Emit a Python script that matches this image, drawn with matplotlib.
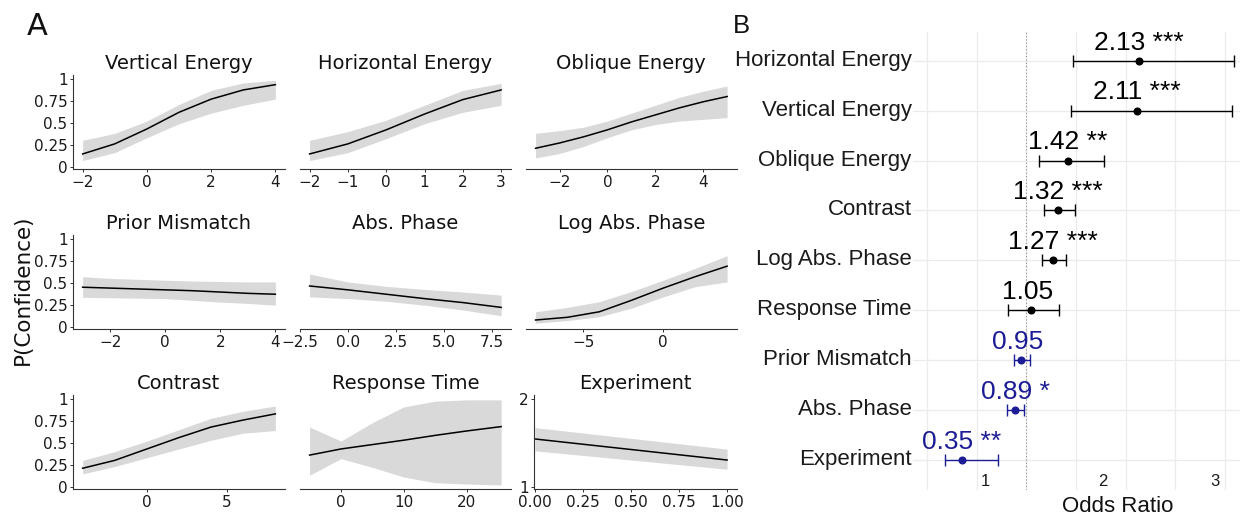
import numpy as np
import matplotlib
matplotlib.use("Agg")
import matplotlib.pyplot as plt
from matplotlib.transforms import blended_transform_factory, ScaledTranslation

# ---------------- Panel A data (predicted P(Confidence) with 95% band) ----------------
ve_x = [-2, -1, 0, 1, 2, 3, 4]
ve_fit = [0.145, 0.26, 0.43, 0.62, 0.77, 0.875, 0.935]
ve_hi = [0.30, 0.38, 0.52, 0.71, 0.87, 0.955, 0.985]
ve_lo = [0.07, 0.16, 0.33, 0.49, 0.61, 0.70, 0.77]

he_x = [-2, -1, 0, 1, 2, 3]
he_fit = [0.145, 0.26, 0.42, 0.60, 0.765, 0.875]
he_hi = [0.30, 0.40, 0.53, 0.70, 0.87, 0.95]
he_lo = [0.07, 0.16, 0.32, 0.49, 0.62, 0.70]

oe_x = [-3, -2, -1, 0, 1, 2, 3, 4, 5]
oe_fit = [0.21, 0.27, 0.34, 0.42, 0.51, 0.59, 0.67, 0.74, 0.80]
oe_hi = [0.38, 0.41, 0.45, 0.52, 0.61, 0.70, 0.79, 0.86, 0.92]
oe_lo = [0.10, 0.15, 0.23, 0.33, 0.42, 0.48, 0.52, 0.54, 0.56]

pm_x = [-3, -2, -1, 0, 1, 2, 3, 4]
pm_fit = [0.45, 0.44, 0.43, 0.42, 0.41, 0.395, 0.38, 0.37]
pm_hi = [0.57, 0.55, 0.54, 0.53, 0.52, 0.515, 0.51, 0.51]
pm_lo = [0.335, 0.33, 0.325, 0.32, 0.30, 0.28, 0.265, 0.245]

ap_x = [-2, 0, 2, 4, 6, 8]
ap_fit = [0.464, 0.42, 0.37, 0.32, 0.275, 0.22]
ap_hi = [0.60, 0.51, 0.46, 0.425, 0.395, 0.36]
ap_lo = [0.34, 0.32, 0.29, 0.245, 0.19, 0.125]

lap_x = [-8, -6, -4, -2, 0, 2, 4]
lap_fit = [0.076, 0.107, 0.17, 0.30, 0.44, 0.57, 0.69]
lap_hi = [0.17, 0.22, 0.285, 0.40, 0.53, 0.665, 0.81]
lap_lo = [0.04, 0.07, 0.114, 0.21, 0.34, 0.456, 0.51]

co_x = [-4, -2, 0, 2, 4, 6, 8]
co_fit = [0.21, 0.30, 0.43, 0.56, 0.68, 0.76, 0.83]
co_hi = [0.30, 0.40, 0.52, 0.65, 0.78, 0.86, 0.92]
co_lo = [0.145, 0.23, 0.33, 0.43, 0.53, 0.61, 0.64]

rt_x = [-5, 0, 5, 10, 15, 20, 25.5]
rt_fit = [0.36, 0.43, 0.48, 0.53, 0.585, 0.635, 0.685]
rt_hi = [0.68, 0.52, 0.73, 0.91, 0.975, 0.99, 0.99]
rt_lo = [0.13, 0.32, 0.22, 0.11, 0.045, 0.03, 0.02]

ex_x = [0, 1]
ex_fit = [1.546, 1.305]
ex_hi = [1.676, 1.43]
ex_lo = [1.41, 1.20]

p_ticks = [0, 0.25, 0.5, 0.75, 1]
p_ticklabels = ["0", "0.25", "0.5", "0.75", "1"]

# ---------------- Panel B data (odds ratios) ----------------
terms = ["Experiment", "Abs. Phase", "Prior Mismatch", "Response Time",
         "Log Abs. Phase", "Contrast", "Oblique Energy", "Vertical Energy",
         "Horizontal Energy"]
odds = [0.35, 0.89, 0.95, 1.05, 1.27, 1.32, 1.42, 2.11, 2.13]
ci_lo = [0.18, 0.81, 0.88, 0.82, 1.16, 1.18, 1.13, 1.45, 1.47]
ci_hi = [0.71, 0.98, 1.04, 1.33, 1.40, 1.49, 1.78, 3.07, 3.09]
stars = ["**", "*", "", "", "***", "***", "**", "***", "***"]
or_tick_pos = [0.59, 1.77, 2.90]
or_tick_labels = ["1", "2", "3"]
or_grid = [0, 0.5, 1.0, 1.5, 2.0, 2.5, 3.0]

# ---------------- figure ----------------
W, H = 1240, 515
fig = plt.figure(figsize=(W / 100, H / 100), dpi=100)
fig.patch.set_facecolor("white")

ARIAL = "Liberation Sans"
BLUE = "#1c1c96"
RIBBON = "#d9d9d9"
AXC = "#333333"


def add_ax(l, t, r, b):
    return fig.add_axes([l / W, 1 - b / H, (r - l) / W, (b - t) / H])


cols = [(73, 285), (300, 510.7), (526, 736.7)]
rows = [(74.6 + 160 * k, 169.3 + 160 * k) for k in range(3)]

panels = [
    ("Vertical Energy", ve_x, ve_fit, ve_lo, ve_hi, [-2, 0, 2, 4], None),
    ("Horizontal Energy", he_x, he_fit, he_lo, he_hi, [-2, -1, 0, 1, 2, 3], None),
    ("Oblique Energy", oe_x, oe_fit, oe_lo, oe_hi, [-2, 0, 2, 4], None),
    ("Prior Mismatch", pm_x, pm_fit, pm_lo, pm_hi, [-2, 0, 2, 4], None),
    ("Abs. Phase", ap_x, ap_fit, ap_lo, ap_hi, [-2.5, 0, 2.5, 5, 7.5],
     ["\u22122.5", "0.0", "2.5", "5.0", "7.5"]),
    ("Log Abs. Phase", lap_x, lap_fit, lap_lo, lap_hi, [-5, 0], None),
    ("Contrast", co_x, co_fit, co_lo, co_hi, [0, 5], None),
    ("Response Time", rt_x, rt_fit, rt_lo, rt_hi, [0, 10, 20], None),
    ("Experiment", ex_x, ex_fit, ex_lo, ex_hi, [0, 0.25, 0.5, 0.75, 1],
     ["0.00", "0.25", "0.50", "0.75", "1.00"]),
]

for i, (title, x, fit, lo, hi, xt, xtl) in enumerate(panels):
    r, c = divmod(i, 3)
    l, rr = cols[c]
    t, b = rows[r]
    is_exp = title == "Experiment"
    if is_exp:
        l = 534
    ax = add_ax(l, t, rr, b)
    ax.fill_between(x, lo, hi, color=RIBBON, lw=0, zorder=1)
    ax.plot(x, fit, color="black", lw=1.1, zorder=2)
    if is_exp:
        ax.set_xlim(-0.005, 1.05)
        ax.set_ylim(0.97, 2.054)
        ax.set_yticks([1, 2], ["1", "2"])
    else:
        rng = max(x) - min(x)
        ax.set_xlim(min(x) - 0.05 * rng, max(x) + 0.05 * rng)
        ax.set_ylim(-0.03, 1.05)
        ax.set_yticks(p_ticks, p_ticklabels)
    if xtl is None:
        ax.set_xticks(xt)
    else:
        ax.set_xticks(xt, xtl)
    for s in ["top", "right"]:
        ax.spines[s].set_visible(False)
    ax.spines["bottom"].set_color(AXC)
    ax.spines["bottom"].set_linewidth(0.8)
    if c == 0 or is_exp:
        ax.spines["left"].set_color(AXC)
        ax.spines["left"].set_linewidth(0.8)
    else:
        ax.spines["left"].set_visible(False)
        ax.tick_params(axis="y", left=False, labelleft=False)
    ax.tick_params(axis="both", direction="out", length=2.5, width=0.7,
                   color=AXC, labelsize=11, pad=1.5, labelcolor="#1a1a1a")
    ax.set_title(title, fontsize=14, pad=4, color="#111111")
    ax.set_facecolor("none")

fig.text(23 / W, 1 - 289.5 / H, "P(Confidence)", rotation=90, ha="center",
         va="center", fontsize=15.5, color="#111111")
fig.text(27 / W, 1 - 35 / H, "A", ha="left", va="baseline", fontsize=22,
         color="#111111")

# ---------------- Panel B ----------------
axB = add_ax(913, 31.7, 1240, 490)
ypos = np.arange(1, len(terms) + 1)
axB.set_xlim(-0.141, 3.152)
axB.set_ylim(0.4, 9.58)
axB.set_axisbelow(True)
for s in axB.spines.values():
    s.set_visible(False)

axB.set_xticks([])
axB.set_xticks(or_grid, minor=True)
axB.grid(axis="x", which="minor", color="#ebebeb", lw=0.9)
axB.set_yticks(ypos, terms)
axB.grid(axis="y", which="major", color="#ebebeb", lw=0.9)
axB.tick_params(axis="y", length=0, pad=1, labelsize=16)
axB.tick_params(axis="x", which="both", length=0)
shift_up = ScaledTranslation(0, 3 / 100, fig.dpi_scale_trans)
for lab in axB.get_yticklabels():
    lab.set_fontfamily(ARIAL)
    lab.set_color("#1a1a1a")
    lab.set_transform(lab.get_transform() + shift_up)

axB.axvline(1, color="#8f8f8f", ls=(0, (1, 2)), lw=0.8, zorder=1.5)

for yv, o, lo, hi, st in zip(ypos, odds, ci_lo, ci_hi, stars):
    col = "black" if o > 1 else BLUE
    axB.errorbar(o, yv, xerr=[[o - lo], [hi - o]], fmt="o", color=col, ms=4.8,
                 capsize=4.3, elinewidth=1.0, capthick=1.0, zorder=3)
    label = f"{o:.2f} {st}"
    axB.annotate(label, (o, yv), xytext=(0, 8), textcoords="offset points",
                 ha="center", va="baseline", fontsize=19, color=col,
                 family=ARIAL, zorder=4)

trans = blended_transform_factory(axB.transData, axB.transAxes)
for xp, tl in zip(or_tick_pos, or_tick_labels):
    axB.text(xp, 0.018, tl, transform=trans, ha="center", va="center",
             fontsize=12, family=ARIAL, color="#1a1a1a")

fig.text(1118 / W, 1 - 511.5 / H, "Odds Ratio", ha="center", va="baseline",
         fontsize=16, family=ARIAL, color="#111111")
fig.text(733 / W, 1 - 33 / H, "B", ha="left", va="baseline", fontsize=18.5,
         family=ARIAL, color="#111111")

fig.savefig("out.png", dpi=100, facecolor="white")
